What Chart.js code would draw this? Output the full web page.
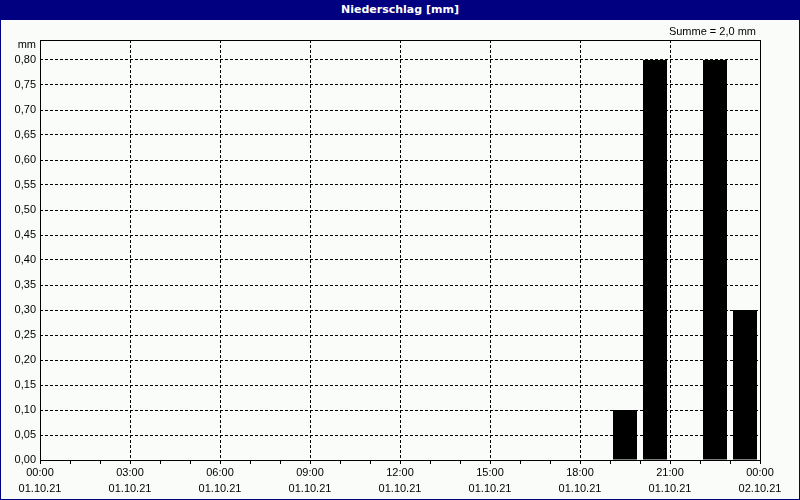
<!DOCTYPE html>
<html>
<head>
<meta charset="utf-8">
<script src="https://cdn.jsdelivr.net/npm/chart.js@4/dist/chart.umd.min.js"></script>
<style>
    html, body { margin: 0; padding: 0; background: #fafcfa; }
    #frame {
        width: 800px; height: 500px; box-sizing: border-box;
        border: 1px solid #000080; background: #fafcfa; overflow: hidden;
    }
    #titleBar {
        height: 19px; background: #000080; color: #fff;
        font: bold 11px "DejaVu Sans", sans-serif; text-align: center; line-height: 17px;
    }
    #chartBox { position: relative; width: 798px; height: 479px; }
</style>
</head>
<body>
<div id="frame">
    <div id="titleBar">Niederschlag [mm]</div>
    <div id="chartBox"><canvas id="rainChart"></canvas></div>
</div>
<script>
// Hourly precipitation, hour slot start -> mm (hours without rain left out)
const hours = [19, 20, 22, 23];
const rainValues = [0.10, 0.80, 0.80, 0.30];
const tickTimes = ['00:00', '03:00', '06:00', '09:00', '12:00', '15:00', '18:00', '21:00', '00:00'];
const tickDates = ['01.10.21', '01.10.21', '01.10.21', '01.10.21', '01.10.21', '01.10.21', '01.10.21', '01.10.21', '02.10.21'];

const fontFamily = '"Liberation Sans", Arial, sans-serif';
const total = rainValues.reduce((a, b) => a + b, 0);

// Frame around the plot area plus the "mm" unit label and the sum text
const framePlugin = {
    id: 'framePlugin',
    afterDraw(chart) {
        const { ctx, chartArea } = chart;
        ctx.save();
        ctx.strokeStyle = '#000';
        ctx.lineWidth = 1;
        ctx.setLineDash([]);
        ctx.strokeRect(Math.round(chartArea.left) + 0.5, Math.round(chartArea.top) + 0.5,
            Math.round(chartArea.right - chartArea.left), Math.round(chartArea.bottom - chartArea.top));
        ctx.fillStyle = '#000';
        ctx.font = '11px ' + fontFamily;
        ctx.textBaseline = 'middle';
        ctx.textAlign = 'right';
        ctx.fillText('mm', chartArea.left - 4, chartArea.top + 5);
        ctx.fillText('Summe = ' + total.toFixed(1).replace('.', ',') + ' mm', chartArea.right - 4, chartArea.top - 8);
        ctx.restore();
    }
};

function createRainChart() {
    const ctx = document.getElementById('rainChart').getContext('2d');
    new Chart(ctx, {
        type: 'bar',
        data: {
            datasets: [{
                data: hours.map((h, i) => ({ x: h + 0.5, y: rainValues[i] })),
                backgroundColor: '#000',
                borderWidth: 0,
                inflateAmount: 0,
                barThickness: 24
            }]
        },
        options: {
            responsive: true,
            maintainAspectRatio: false,
            animation: false,
            layout: { padding: { left: 0, right: 39, top: 20, bottom: 0 } },
            plugins: {
                legend: { display: false },
                tooltip: { enabled: false }
            },
            scales: {
                x: {
                    type: 'linear',
                    min: 0,
                    max: 24,
                    offset: false,
                    afterFit: s => { s.height = 39; },
                    border: { display: false, dash: [3, 2] },
                    grid: {
                        offset: false,
                        color: c => (c.tick && c.tick.value % 3 === 0) ? '#000' : 'rgba(0,0,0,0)',
                        tickColor: '#000',
                        tickLength: 4,
                        borderDash: [3, 2],
                        tickBorderDash: []
                    },
                    ticks: {
                        stepSize: 1,
                        autoSkip: false,
                        maxRotation: 0,
                        padding: 1,
                        color: '#000',
                        font: { family: fontFamily, size: 11, lineHeight: '16px' },
                        callback: v => v % 3 === 0 ? [tickTimes[v / 3], tickDates[v / 3]] : ''
                    }
                },
                y: {
                    min: 0,
                    max: 0.84,
                    afterFit: s => { s.width = 39; },
                    afterBuildTicks: s => { s.ticks = s.ticks.filter(t => t.value <= 0.8001); },
                    border: { display: false, dash: [3, 2] },
                    grid: {
                        color: '#000',
                        drawTicks: false,
                        borderDash: [3, 2]
                    },
                    ticks: {
                        stepSize: 0.05,
                        padding: 4,
                        color: '#000',
                        font: { family: fontFamily, size: 11 },
                        callback: v => v.toFixed(2).replace('.', ',')
                    }
                }
            }
        },
        plugins: [framePlugin]
    });
}

document.addEventListener('DOMContentLoaded', createRainChart);
</script>
</body>
</html>
